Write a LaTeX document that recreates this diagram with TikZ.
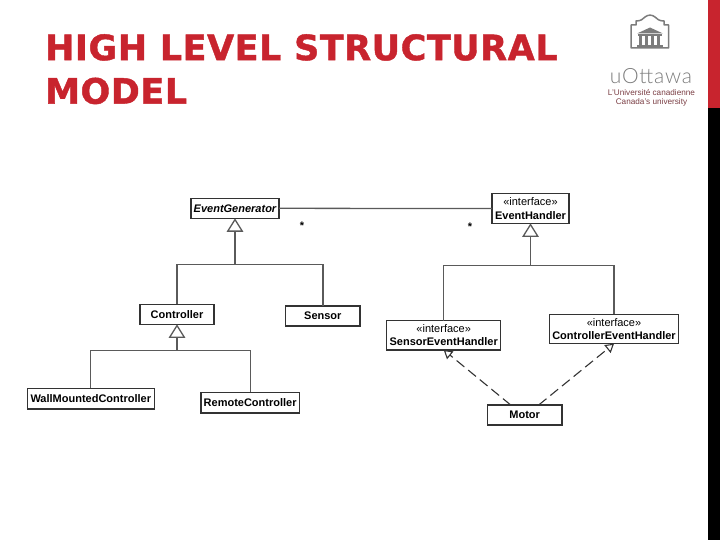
\documentclass[tikz,border=0pt]{standalone}
\usepackage{fontspec}
\setmainfont{Liberation Sans}
\newfontfamily\titlefont[LetterSpace=1.5,FakeBold=1.2]{DejaVu Sans Bold}
\newfontfamily\logofont[LetterSpace=4]{Lato Light}
\usetikzlibrary{arrows.meta,positioning}
\definecolor{ored}{HTML}{C8242E}
\definecolor{logogray}{HTML}{7C7C7C}
\definecolor{logotext}{HTML}{7B3F45}
\definecolor{umlline}{HTML}{5A5A5A}
\tikzset{
  umlbox/.style={draw=black!80, line width=1.3pt, fill=white, inner sep=0pt, outer sep=0pt, align=center, font=\fontsize{11}{13.5}\selectfont\bfseries},
  link/.style={draw=umlline, line width=1.3pt},
  genlink/.style={link, -{Triangle[open,fill=white,length=13.5pt,width=16.5pt]}},
  reallink/.style={draw=black!80, line width=1.1pt, dash pattern=on 10pt off 5pt, -{Triangle[open,fill=white,length=8.5pt,width=10pt]}},
}
\begin{document}
\begin{tikzpicture}[x=1pt, y=-1pt]
\useasboundingbox (0,0) rectangle (720,540);
% side bar
\fill[ored] (708,0) rectangle (720,108);
\fill[black] (708,108) rectangle (720,540);
% title
\node[anchor=north west, inner sep=0pt, align=left, text=ored, font=\fontsize{35}{43.5}\selectfont\titlefont] (title) at (45,34) {HIGH LEVEL STRUCTURAL\\MODEL};
% logo
\draw[logogray, line width=1.5pt, line join=round] (631,48) -- (631,25) -- (636,25) -- (636,21) .. controls (641,21) and (643,19) .. (645,17) .. controls (648,14.5) and (652,14.5) .. (655,17) .. controls (657,19) and (659,21) .. (664,21) -- (664,25) -- (668.5,25) -- (668.5,48) -- cycle;
\fill[logogray] (637,33.5) -- (650,27.5) -- (663,33.5) -- cycle;
\fill[logogray] (638,34.5) rectangle (662,36);
\fill[logogray] (637,45.5) rectangle (663,47.5);
\foreach \xc in {640.5,646.5,652.5,658.5} {
  \fill[logogray] (\xc-1.4,36) rectangle (\xc+1.4,46);
}
\node[text=logogray, inner sep=0pt, font=\fontsize{21}{24}\selectfont\logofont] (uottawa) at (651,76) {uOttawa};
\node[text=logotext, inner sep=0pt, font=\fontsize{8.2}{9}\selectfont] (fr) at (651.5,93) {L'Université canadienne};
\node[text=logotext, inner sep=0pt, font=\fontsize{8.2}{9}\selectfont] (en) at (651.5,102.5) {Canada's university};
% classes
\node[umlbox, minimum width=88pt, minimum height=20pt, font=\fontsize{11}{13.5}\selectfont\bfseries\itshape] (eg) at (235,208.3) {EventGenerator};
\node[umlbox, minimum width=77pt, minimum height=29.5pt, right=213pt of eg, yshift=-.3pt] (eh) {{\mdseries «interface»}\\EventHandler};
\node[umlbox, minimum width=74pt, minimum height=20pt] (controller) at (177,314.3) {Controller};
\node[umlbox, minimum width=74.3pt, minimum height=20pt, right=71.7pt of controller, yshift=-1.7pt] (sensor) {Sensor};
\node[umlbox, minimum width=127pt, minimum height=20.7pt] (wall) at (90.8,398.6) {WallMountedController};
\node[umlbox, minimum width=98.3pt, minimum height=20.7pt, right=46.7pt of wall, yshift=-4pt] (remote) {RemoteController};
\node[umlbox, minimum width=114pt, minimum height=29.3pt] (senseh) at (443.7,335.3) {{\mdseries «interface»}\\SensorEventHandler};
\node[umlbox, minimum width=129.4pt, minimum height=29.4pt, right=48.6pt of senseh, yshift=6.3pt] (ctrleh) {{\mdseries «interface»}\\ControllerEventHandler};
\node[umlbox, minimum width=74.7pt, minimum height=20pt] (motor) at (524.7,415) {Motor};
% junctions
\coordinate[below=46pt of eg] (egbus);
\coordinate[below=26pt of controller] (ctrlbus);
\coordinate[below=42.3pt of eh] (ehbus);
% multiplicities
\node[inner sep=0pt, font=\fontsize{11}{12}\selectfont\bfseries] (stara) at (302,226) {*};
\node[inner sep=0pt, font=\fontsize{11}{12}\selectfont\bfseries] (starb) at (470,227) {*};
% connectors
\draw[link] (eg.east) -- (eh.west);
\draw[genlink] (egbus) -- (eg.south);
\draw[link] (controller.north) |- (egbus) -| (sensor.north);
\draw[genlink] (ctrlbus) -- (controller.south);
\draw[link] (wall.north) |- (ctrlbus) -| (remote.north);
\draw[genlink] (ehbus) -- (eh.south);
\draw[link] (senseh.north) |- (ehbus) -| (ctrleh.north);
\draw[reallink] ([xshift=-14pt]motor.north) -- (senseh.south);
\draw[reallink] ([xshift=14pt]motor.north) -- (ctrleh.south);
\end{tikzpicture}
\end{document}
